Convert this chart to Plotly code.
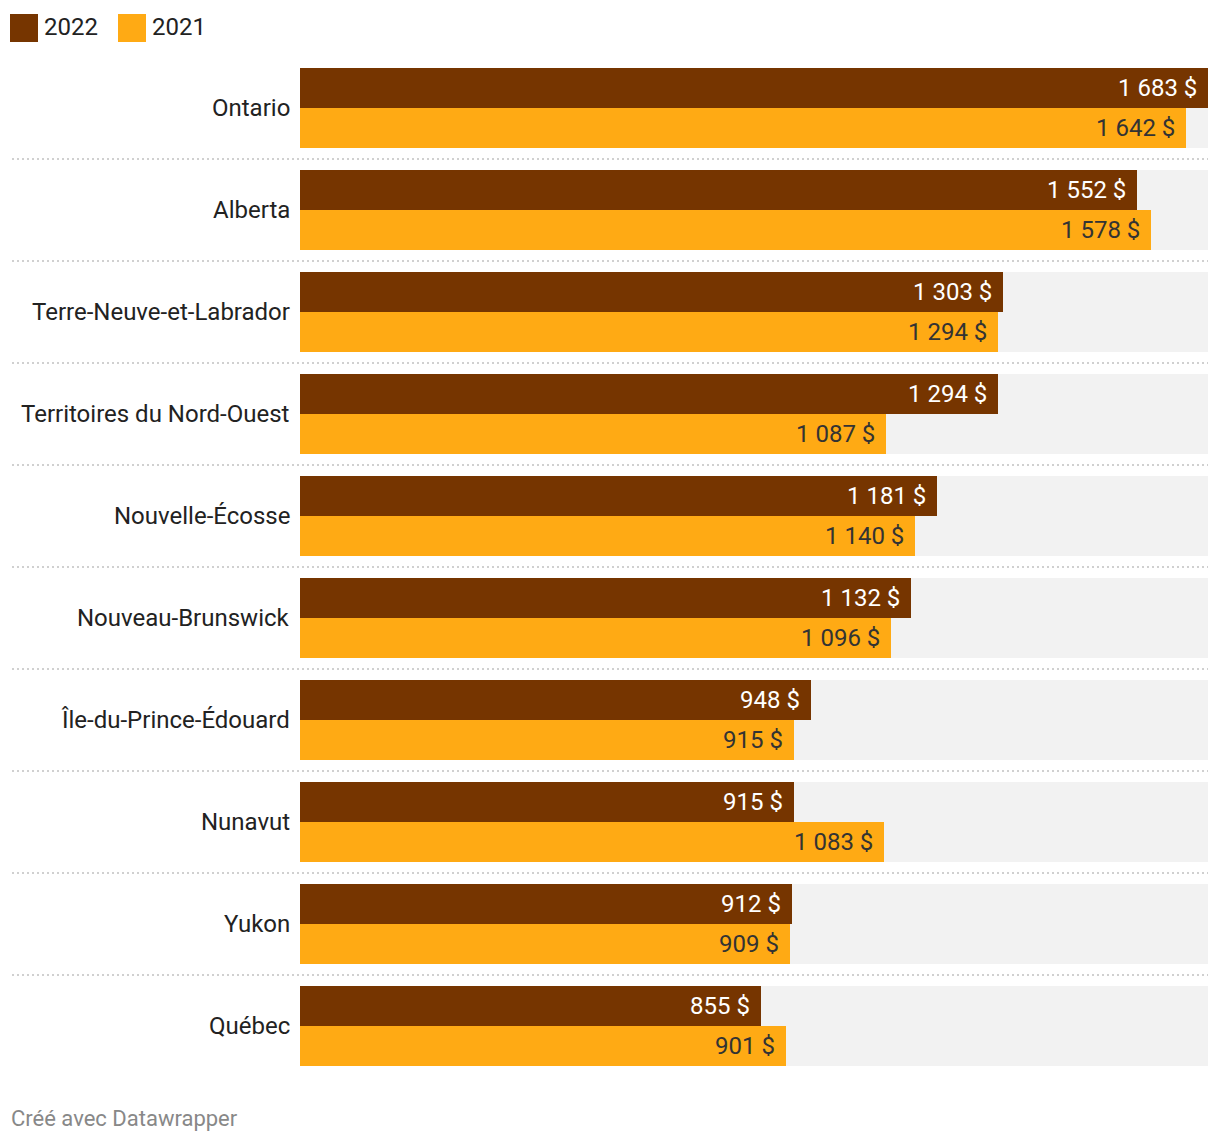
import plotly.graph_objects as go

provinces = ["Ontario", "Alberta", "Terre-Neuve-et-Labrador", "Territoires du Nord-Ouest",
             "Nouvelle-Écosse", "Nouveau-Brunswick", "Île-du-Prince-Édouard", "Nunavut",
             "Yukon", "Québec"]
values_2022 = [1683, 1552, 1303, 1294, 1181, 1132, 948, 915, 912, 855]
values_2021 = [1642, 1578, 1294, 1087, 1140, 1096, 915, 1083, 909, 901]
series_names = ["2022", "2021"]

C22 = "#763500"
C21 = "#FFAA14"
BG = "#F2F2F2"
FONT = "Roboto"
W, H = 1220, 1144
OFF = 8  # page body margin offset


def px(x):
    return (x - OFF) / W


def py(y):
    return 1 - (y - OFF) / H


def fmt(v):
    return f"{v:,}".replace(",", " ") + " $"


n = len(provinces)
idx = list(range(n))
vmax = max(values_2022 + values_2021)
half = 40 / 102

fig = go.Figure()
fig.add_trace(go.Bar(y=idx, x=[vmax] * n, orientation="h", width=2 * half,
                     marker=dict(color=BG, line=dict(width=0)), hoverinfo="skip", showlegend=False))
fig.add_trace(go.Bar(y=[i - half / 2 for i in idx], x=values_2022, orientation="h", width=half,
                     marker=dict(color=C22, line=dict(width=0)), name=series_names[0], showlegend=False))
fig.add_trace(go.Bar(y=[i + half / 2 for i in idx], x=values_2021, orientation="h", width=half,
                     marker=dict(color=C21, line=dict(width=0)), name=series_names[1], showlegend=False))

annotations = []
for i in idx:
    annotations.append(dict(x=values_2022[i], y=i - half / 2, xref="x", yref="y", text=fmt(values_2022[i]),
                            xanchor="right", yanchor="middle", xshift=-9, showarrow=False,
                            font=dict(family=FONT, size=24, color="#FFFFFF")))
    annotations.append(dict(x=values_2021[i], y=i + half / 2, xref="x", yref="y", text=fmt(values_2021[i]),
                            xanchor="right", yanchor="middle", xshift=-9, showarrow=False,
                            font=dict(family=FONT, size=24, color="#333333")))
    annotations.append(dict(x=0, y=i, xref="x domain", yref="y", text=provinces[i],
                            xanchor="right", yanchor="middle", xshift=-8, showarrow=False,
                            font=dict(family=FONT, size=24, color="#222222")))

shapes = []
for i in range(n - 1):
    shapes.append(dict(type="line", xref="paper", yref="y", x0=px(12), x1=px(1208), y0=i + 0.5, y1=i + 0.5,
                       line=dict(color="#D0D0D0", width=2, dash="2px,3px")))

# legend
leg = [(10, series_names[0], C22), (118, series_names[1], C21)]
for x0, name, col in leg:
    shapes.append(dict(type="rect", xref="paper", yref="paper", x0=px(x0), x1=px(x0 + 28),
                       y0=py(42), y1=py(14), fillcolor=col, line=dict(width=0)))
    annotations.append(dict(x=px(x0 + 32), y=py(27), xref="paper", yref="paper", text=name,
                            xanchor="left", yanchor="middle", showarrow=False,
                            font=dict(family=FONT, size=24, color="#222222")))

annotations.append(dict(x=px(9), y=py(1118), xref="paper", yref="paper", text="Créé avec Datawrapper",
                        xanchor="left", yanchor="middle", showarrow=False,
                        font=dict(family=FONT, size=22, color="#888888")))

fig.update_layout(
    width=W, height=H, margin=dict(l=0, r=0, t=0, b=0),
    paper_bgcolor="white", plot_bgcolor="white",
    barmode="overlay", bargap=0,
    xaxis=dict(domain=[px(300), px(1208)], range=[0, vmax], visible=False, fixedrange=True),
    yaxis=dict(domain=[py(1066), py(68)], range=[n - 1 + half, -half], visible=False, fixedrange=True),
    annotations=annotations, shapes=shapes, showlegend=False,
    font=dict(family=FONT),
)

fig.write_html("out.html")
